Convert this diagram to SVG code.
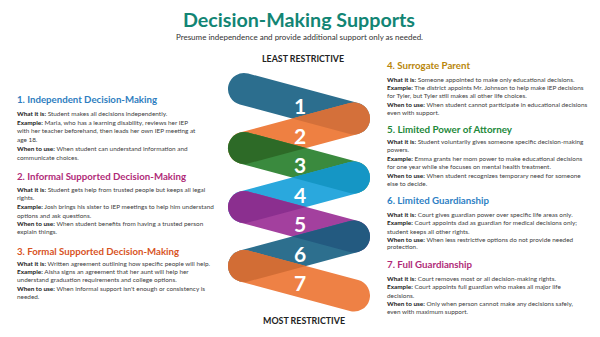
<svg xmlns="http://www.w3.org/2000/svg" xmlns:xlink="http://www.w3.org/1999/xlink" width="600" height="337" viewBox="0 0 600 337">
<defs>
<style>
.ti{font-family:Lato,"Open Sans",sans-serif;font-weight:700;font-size:18.5px;fill:#128574;text-anchor:middle}
.st{font-family:Lato,"Open Sans",sans-serif;font-size:7.8px;fill:#333;text-anchor:middle}
.h{font-family:Lato,"Open Sans",sans-serif;font-weight:700;font-size:9.5px}
.t{font-family:Lato,"Open Sans",sans-serif;font-size:6.4px;fill:#404040}
.b{font-weight:700;fill:#1a1a1a}
.num{font-family:Lato,"Open Sans",sans-serif;font-weight:700;font-size:21px;fill:#fff;text-anchor:middle}
.lab{font-family:Lato,"Open Sans",sans-serif;font-weight:700;font-size:8.5px;fill:#222;text-anchor:middle}
</style>
<rect id="bs" x="-72.95" y="-16" width="145.9" height="32" rx="16"/>
<clipPath id="c1"><use xlink:href="#bs" transform="translate(299,103.75) rotate(15.02)"/></clipPath>
<clipPath id="c2"><use xlink:href="#bs" transform="translate(299,133.25) rotate(-15.02)"/></clipPath>
<clipPath id="c3"><use xlink:href="#bs" transform="translate(299,162.75) rotate(15.02)"/></clipPath>
<clipPath id="c4"><use xlink:href="#bs" transform="translate(299,192.25) rotate(-15.02)"/></clipPath>
<clipPath id="c5"><use xlink:href="#bs" transform="translate(299,221.75) rotate(15.02)"/></clipPath>
<clipPath id="c6"><use xlink:href="#bs" transform="translate(299,251.25) rotate(-15.02)"/></clipPath>
</defs>
<rect width="600" height="337" fill="#fff"/>
<g id="title">
<text class="ti" x="299" y="27" textLength="232" lengthAdjust="spacingAndGlyphs">Decision-Making Supports</text>
<text class="st" x="299.5" y="40" textLength="247" lengthAdjust="spacingAndGlyphs">Presume independence and provide additional support only as needed.</text>
</g>
<g id="scale-labels">
<text class="lab" x="303" y="62" textLength="82" lengthAdjust="spacingAndGlyphs">LEAST RESTRICTIVE</text>
<text class="lab" x="304" y="324" textLength="82" lengthAdjust="spacingAndGlyphs">MOST RESTRICTIVE</text>
</g>
<g id="band-1">
<use xlink:href="#bs" transform="translate(299,103.75) rotate(15.02)" fill="#2c6e8e"/>
<text class="num" x="300" y="114">1</text>
</g>
<g id="band-2">
<use xlink:href="#bs" transform="translate(299,133.25) rotate(-15.02)" fill="#ee8042"/>
<g clip-path="url(#c1)"><use xlink:href="#bs" transform="translate(299,133.25) rotate(-15.02)" fill="#d4703a"/></g>
<text class="num" x="300" y="144">2</text>
</g>
<g id="band-3">
<use xlink:href="#bs" transform="translate(299,162.75) rotate(15.02)" fill="#3a8a3e"/>
<g clip-path="url(#c2)"><use xlink:href="#bs" transform="translate(299,162.75) rotate(15.02)" fill="#2d6a27"/></g>
<text class="num" x="300" y="173">3</text>
</g>
<g id="band-4">
<use xlink:href="#bs" transform="translate(299,192.25) rotate(-15.02)" fill="#2aa8dd"/>
<g clip-path="url(#c3)"><use xlink:href="#bs" transform="translate(299,192.25) rotate(-15.02)" fill="#1596c5"/></g>
<text class="num" x="300" y="203">4</text>
</g>
<g id="band-5">
<use xlink:href="#bs" transform="translate(299,221.75) rotate(15.02)" fill="#a3409e"/>
<g clip-path="url(#c4)"><use xlink:href="#bs" transform="translate(299,221.75) rotate(15.02)" fill="#8b2f8f"/></g>
<text class="num" x="300" y="232">5</text>
</g>
<g id="band-6">
<use xlink:href="#bs" transform="translate(299,251.25) rotate(-15.02)" fill="#2d6f8e"/>
<g clip-path="url(#c5)"><use xlink:href="#bs" transform="translate(299,251.25) rotate(-15.02)" fill="#235a80"/></g>
<text class="num" x="300" y="262">6</text>
</g>
<g id="band-7">
<use xlink:href="#bs" transform="translate(299,280.75) rotate(15.02)" fill="#ee8145"/>
<g clip-path="url(#c6)"><use xlink:href="#bs" transform="translate(299,280.75) rotate(15.02)" fill="#d26d35"/></g>
<text class="num" x="300" y="291">7</text>
</g>
<g id="desc-1">
<text class="h" x="17" y="103" fill="#2e7dc0" textLength="140" lengthAdjust="spacingAndGlyphs">1. Independent Decision-Making</text>
<text class="t" x="17" y="115.5"><tspan class="b">What it is:</tspan> Student makes all decisions independently.</text>
<text class="t" x="17" y="124.5"><tspan class="b">Example:</tspan> Maria, who has a learning disability, reviews her IEP</text>
<text class="t" x="17" y="133">with her teacher beforehand, then leads her own IEP meeting at</text>
<text class="t" x="17" y="142">age 18.</text>
<text class="t" x="17" y="151"><tspan class="b">When to use:</tspan> When student can understand information and</text>
<text class="t" x="17" y="160">communicate choices.</text>
</g>
<g id="desc-2">
<text class="h" x="17" y="180" fill="#b02a78" textLength="169" lengthAdjust="spacingAndGlyphs">2. Informal Supported Decision-Making</text>
<text class="t" x="17" y="191.5"><tspan class="b">What it is:</tspan> Student gets help from trusted people but keeps all legal</text>
<text class="t" x="17" y="200">rights.</text>
<text class="t" x="17" y="209"><tspan class="b">Example:</tspan> Josh brings his sister to IEP meetings to help him understand</text>
<text class="t" x="17" y="217.5">options and ask questions.</text>
<text class="t" x="17" y="226"><tspan class="b">When to use:</tspan> When student benefits from having a trusted person</text>
<text class="t" x="17" y="234">explain things.</text>
</g>
<g id="desc-3">
<text class="h" x="17" y="255" fill="#d8531f" textLength="162" lengthAdjust="spacingAndGlyphs">3. Formal Supported Decision-Making</text>
<text class="t" x="17" y="266"><tspan class="b">What it is:</tspan> Written agreement outlining how specific people will help.</text>
<text class="t" x="17" y="274"><tspan class="b">Example:</tspan> Aisha signs an agreement that her aunt will help her</text>
<text class="t" x="17" y="282">understand graduation requirements and college options.</text>
<text class="t" x="17" y="290.5"><tspan class="b">When to use:</tspan> When informal support isn't enough or consistency is</text>
<text class="t" x="17" y="298.5">needed.</text>
</g>
<g id="desc-4">
<text class="h" x="387" y="69" fill="#b8860b" textLength="83" lengthAdjust="spacingAndGlyphs">4. Surrogate Parent</text>
<text class="t" x="387" y="81.5"><tspan class="b">What it is:</tspan> Someone appointed to make only educational decisions.</text>
<text class="t" x="387" y="90"><tspan class="b">Example:</tspan> The district appoints Mr. Johnson to help make IEP decisions</text>
<text class="t" x="387" y="98">for Tyler, but Tyler still makes all other life choices.</text>
<text class="t" x="387" y="106.5"><tspan class="b">When to use:</tspan> When student cannot participate in educational decisions</text>
<text class="t" x="387" y="115">even with support.</text>
</g>
<g id="desc-5">
<text class="h" x="387" y="133" fill="#22883a" textLength="125" lengthAdjust="spacingAndGlyphs">5. Limited Power of Attorney</text>
<text class="t" x="387" y="144"><tspan class="b">What it is:</tspan> Student voluntarily gives someone specific decision-making</text>
<text class="t" x="387" y="151.5">powers.</text>
<text class="t" x="387" y="160.5"><tspan class="b">Example:</tspan> Emma grants her mom power to make educational decisions</text>
<text class="t" x="387" y="169">for one year while she focuses on mental health treatment.</text>
<text class="t" x="387" y="177.5"><tspan class="b">When to use:</tspan> When student recognizes temporary need for someone</text>
<text class="t" x="387" y="186">else to decide.</text>
</g>
<g id="desc-6">
<text class="h" x="387" y="204" fill="#2e7fc4" textLength="102" lengthAdjust="spacingAndGlyphs">6. Limited Guardianship</text>
<text class="t" x="387" y="216.5"><tspan class="b">What it is:</tspan> Court gives guardian power over specific life areas only.</text>
<text class="t" x="387" y="225"><tspan class="b">Example:</tspan> Court appoints dad as guardian for medical decisions only;</text>
<text class="t" x="387" y="233.5">student keeps all other rights.</text>
<text class="t" x="387" y="241.5"><tspan class="b">When to use:</tspan> When less restrictive options do not provide needed</text>
<text class="t" x="387" y="249">protection.</text>
</g>
<g id="desc-7">
<text class="h" x="387" y="268" fill="#b02a78" textLength="85" lengthAdjust="spacingAndGlyphs">7. Full Guardianship</text>
<text class="t" x="387" y="280.5"><tspan class="b">What it is:</tspan> Court removes most or all decision-making rights.</text>
<text class="t" x="387" y="289"><tspan class="b">Example:</tspan> Court appoints full guardian who makes all major life</text>
<text class="t" x="387" y="297.5">decisions.</text>
<text class="t" x="387" y="305.5"><tspan class="b">When to use:</tspan> Only when person cannot make any decisions safely,</text>
<text class="t" x="387" y="314">even with maximum support.</text>
</g>
</svg>
